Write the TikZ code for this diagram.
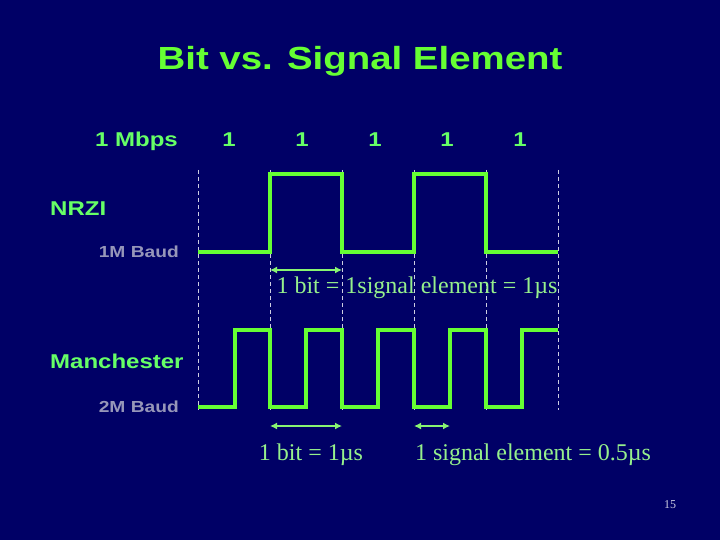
\documentclass[tikz,border=0pt]{standalone}
\usepackage{fontspec}
\setmainfont{Liberation Serif}
\setsansfont[FakeStretch=1.2]{Liberation Sans}
\usetikzlibrary{arrows.meta, calc}
\definecolor{SlideBlue}{RGB}{0,0,102}
\definecolor{SignalGreen}{RGB}{102,255,51}
\definecolor{LabelGreen}{RGB}{102,255,102}
\definecolor{NoteGreen}{RGB}{150,240,140}
\definecolor{BaudGrey}{RGB}{150,150,185}
\definecolor{TickGrey}{RGB}{205,205,225}

\begin{document}
\begin{tikzpicture}[
    x=1pt, y=-1pt,
    font=\sffamily,
    headline/.style={text=SignalGreen, inner sep=0pt, anchor=base,
        font=\sffamily\bfseries\fontsize{32}{36}\selectfont},
    bitlabel/.style={text=LabelGreen, inner sep=0pt, anchor=base,
        font=\sffamily\bfseries\fontsize{20}{24}\selectfont},
    coding/.style={text=LabelGreen, inner sep=0pt, anchor=base west,
        font=\sffamily\bfseries\fontsize{20}{24}\selectfont},
    baud/.style={text=BaudGrey, inner sep=0pt, anchor=base east,
        font=\sffamily\bfseries\fontsize{16}{19}\selectfont},
    note/.style={text=NoteGreen, inner sep=0pt, anchor=base,
        font=\rmfamily\fontsize{24}{28}\selectfont},
    wave/.style={SignalGreen, line width=4pt, line join=miter},
    gridline/.style={TickGrey, line width=0.8pt, dash pattern=on 4pt off 3pt},
    timespan/.style={{Latex[length=7pt,width=7pt]}-{Latex[length=7pt,width=7pt]},
        line width=2.2pt, NoteGreen!70!SignalGreen},
]

% --- slide background ---
\fill[SlideBlue] (0,0) rectangle (720,540);

% --- title ---
\node[headline] (title) at (360,70) {Bit vs. Signal Element};

% --- bit rate and data bits ---
\node[bitlabel, anchor=base east] (rate) at (178,147) {1 Mbps};
\node[bitlabel] (bit1) at (229,147) {1};
\node[bitlabel] (bit2) at (302,147) {1};
\node[bitlabel] (bit3) at (375,147) {1};
\node[bitlabel] (bit4) at (447,147) {1};
\node[bitlabel] (bit5) at (520,147) {1};

% --- bit boundaries ---
\foreach \i/\x in {0/198, 1/270, 2/342, 3/414, 4/486, 5/558} {
    \coordinate (top\i) at (\x,170);
    \coordinate (bot\i) at (\x,410);
    \draw[gridline] (top\i) -- (bot\i);
}

% ================= NRZI =================
\node[coding] (nrzi) at (50,215) {NRZI};
\node[baud] (baud1) at (179,257) {1M Baud};
\draw[wave] (198,252) -- (270,252) -- (270,174) -- (342,174) -- (342,252)
    -- (414,252) -- (414,174) -- (486,174) -- (486,252) -- (558,252);

\coordinate (nL) at (270,270);
\coordinate (nR) at (342,270);
\draw[timespan] (nL) -- (nR);
\node[note] (nrzinote) at (417,293) {1 bit = 1signal element = 1\textmu s};

% ================= MANCHESTER =================
\node[coding] (manch) at (50,368) {Manchester};
\node[baud] (baud2) at (179,412) {2M Baud};
\draw[wave] (198,407) -- (235,407) -- (235,330) -- (270,330) -- (270,407)
    -- (306,407) -- (306,330) -- (342,330) -- (342,407)
    -- (378,407) -- (378,330) -- (414,330) -- (414,407)
    -- (450,407) -- (450,330) -- (486,330) -- (486,407)
    -- (522,407) -- (522,330) -- (558,330);

\coordinate (mL) at (270,426);
\coordinate (mR) at (342,426);
\coordinate (sL) at (414,426);
\coordinate (sR) at (450,426);
\draw[timespan] (mL) -- (mR);
\draw[timespan] (sL) -- (sR);
\node[note] (bitnote) at (311,460) {1 bit = 1\textmu s};
\node[note] (signote) at (533,460) {1 signal element = 0.5\textmu s};

% --- slide number ---
\node[inner sep=0pt, anchor=base, text=TickGrey, font=\rmfamily\fontsize{12}{14}\selectfont]
    (pagenum) at (670,508) {15};

\end{tikzpicture}
\end{document}
